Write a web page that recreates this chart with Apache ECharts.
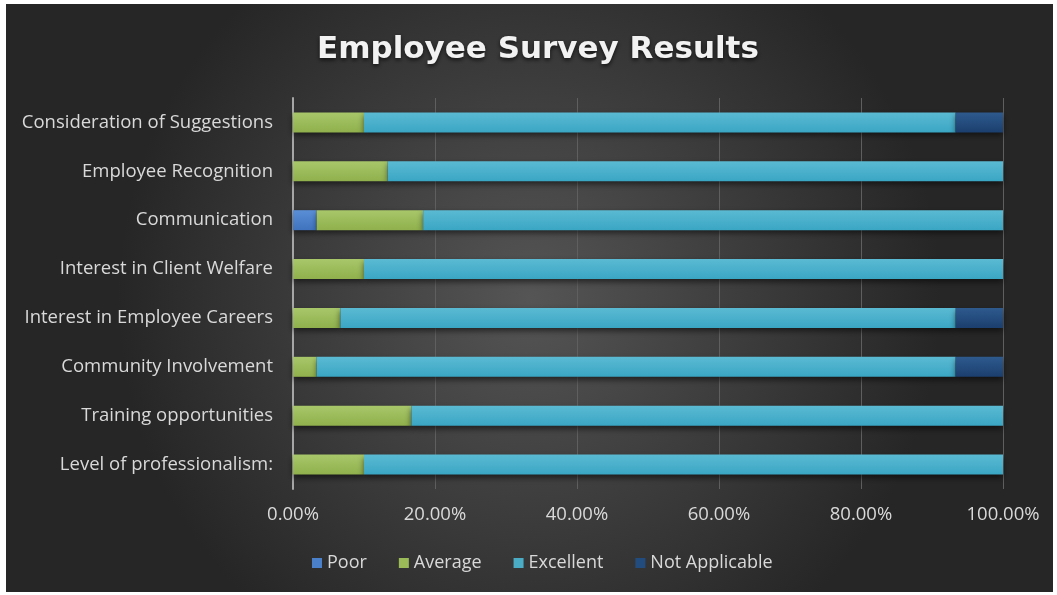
<!DOCTYPE html>
<html>
<head>
<meta charset="utf-8">
<style>
html,body{margin:0;padding:0;background:#ffffff;}
#chart{width:1057px;height:595px;}
</style>
<script src="https://cdn.jsdelivr.net/npm/echarts@6/dist/echarts.min.js"></script>
</head>
<body>
<div id="chart"></div>
<script>
var categories = ["Level of professionalism:", "Training opportunities", "Community Involvement", "Interest in Employee Careers", "Interest in Client Welfare", "Communication", "Employee Recognition", "Consideration of Suggestions"];
var poor =          [0,     0,     0,     0,     0,     3.33,  0,     0];
var average =       [10,    16.67, 3.33,  6.67,  10,    15,    13.33, 10];
var excellent =     [90,    83.33, 90,    86.67, 90,    81.67, 86.67, 83.33];
var notApplicable = [0,     0,     6.67,  6.67,  0,     0,     0,     6.67];
var seriesNames = ["Poor", "Average", "Excellent", "Not Applicable"];
var xTicks = [0, 20, 40, 60, 80, 100];

var chart = echarts.init(document.getElementById('chart'));
function grad(top, bottom){
  return new echarts.graphic.LinearGradient(0,0,0,1,[{offset:0,color:top},{offset:1,color:bottom}]);
}
var colors = [
  grad('#5a8fd6','#3f73bd'),
  grad('#a8c76a','#8fb04c'),
  grad('#5bbad3','#3aa6c4'),
  grad('#2e5a8e','#1b3f6e')
];
var legendColors = ['#4a80ca','#9bbb59','#4bacc6','#234c7e'];
var dataSets = [poor, average, excellent, notApplicable];
var series = dataSets.map(function(d,i){
  return {
    name: seriesNames[i], type:'bar', stack:'total', data:d,
    barWidth: 20,
    itemStyle:{color:colors[i], shadowBlur:6, shadowColor:'rgba(0,0,0,0.55)', shadowOffsetY:3},
    emphasis:{disabled:true}
  };
});
var labelFont = 'Open Sans';
chart.setOption({
  backgroundColor:'#ffffff',
  animation:false,
  graphic:[{
    type:'rect', z:-100, silent:true,
    shape:{x:6,y:4,width:1047,height:588},
    style:{fill:new echarts.graphic.RadialGradient(0.5,0.5,0.7,[{offset:0,color:'#555555'},{offset:1,color:'#262626'}])}
  }],
  title:{
    text:'Employee Survey Results', left:312, top:29,
    textStyle:{fontFamily:'DejaVu Sans', fontWeight:'bold', fontSize:31, color:'#f2f2f2',
      textShadowColor:'rgba(0,0,0,0.7)', textShadowBlur:4, textShadowOffsetY:2}
  },
  color: legendColors,
  legend:{
    data: seriesNames.map(function(n,i){return {name:n, itemStyle:{color:legendColors[i]}};}),
    bottom:18, left:307, icon:'rect', itemWidth:10, itemHeight:10, itemGap:32, itemTextGap:6,
    textStyle:{fontFamily:labelFont, fontSize:18, color:'#d9d9d9'}
  },
  grid:{left:293, right:54, top:98, bottom:106},
  xAxis:{
    type:'value', min:0, max:100, interval:20,
    axisLabel:{formatter:function(v){return v.toFixed(2)+'%';}, fontFamily:labelFont, fontSize:18.5, color:'#d9d9d9', margin:16},
    splitLine:{show:true, lineStyle:{color:'#5f5f5f', width:1}},
    axisLine:{show:false}, axisTick:{show:false}
  },
  yAxis:{
    type:'category', data:categories,
    axisLabel:{fontFamily:labelFont, fontSize:18.5, color:'#d9d9d9', margin:20},
    axisLine:{show:true, lineStyle:{color:'#a6a6a6', width:2}},
    axisTick:{show:false}
  },
  series: series
});
</script>
</body>
</html>
